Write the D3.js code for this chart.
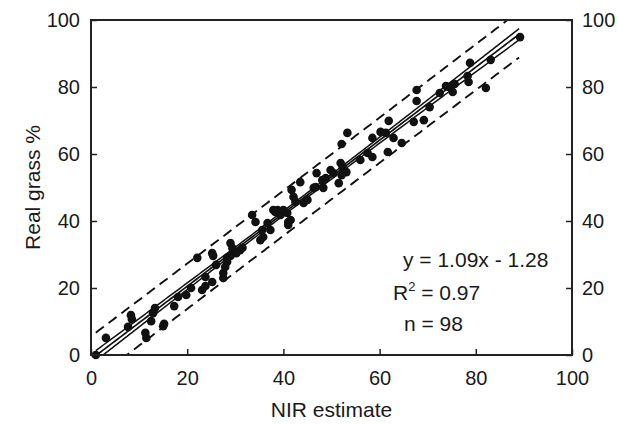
<!DOCTYPE html>
<html>
<head>
<meta charset="utf-8">
<script src="https://cdn.jsdelivr.net/npm/d3@7"></script>
<style>
  body { margin: 0; background: #fff; }
  svg text { font-family: "Liberation Sans", Arial, sans-serif; fill: #1a1a1a; }
</style>
</head>
<body>
<svg id="chart" width="617" height="424"></svg>
<script>
// NIR estimate (x) and real grass % (y)
var nir = [1.0,3.1,7.7,8.3,8.5,11.3,11.5,12.5,13.3,12.9,
  15.2,15.0,17.3,18.1,20.8,22.1,23.1,23.8,23.8,25.2,
  25.2,25.4,26.0,27.5,27.9,27.5,28.3,29.0,28.3,29.0,
  29.4,31.0,30.2,33.5,34.2,35.6,35.2,35.8,36.7,37.3,
  38.3,38.8,39.4,40.0,40.8,41.0,41.5,41.0,41.7,42.5,
  42.1,44.2,45.0,43.5,46.3,46.7,46.9,48.1,48.8,48.3,
  49.8,50.4,51.5,53.1,51.9,52.3,52.1,53.3,52.1,57.5,
  58.5,58.5,60.2,61.3,61.7,61.9,62.9,64.6,67.1,67.7,
  67.7,69.2,70.4,72.5,73.8,74.4,75.2,75.6,78.3,78.5,
  78.8,82.1,83.1,89.2,37.9,19.8,56.0,31.5];
var realGrass = [0,5.1,8.4,11.9,10.7,6.6,5.1,10.1,14.0,12.5,
  9.3,8.6,14.6,17.3,20.0,29.0,19.4,20.6,23.3,21.8,
  30.4,29.6,26.9,24.5,26.3,23.0,29.0,29.6,27.8,33.4,
  31.9,31.3,30.4,41.8,39.7,37.3,34.3,35.2,39.4,37.3,
  42.7,43.3,41.8,43.3,42.4,39.7,40.3,38.8,49.3,45.7,
  47.2,45.4,46.3,51.6,49.9,50.1,54.3,52.2,52.8,49.9,
  55.2,54.3,51.3,54.6,57.3,56.1,63.0,66.3,53.7,60.3,
  59.1,64.8,66.6,66.3,60.6,69.9,64.8,63.3,69.6,79.1,
  75.8,70.1,74.0,78.2,80.3,80.0,78.5,80.9,83.3,81.5,
  87.2,79.7,88.1,94.9,43.3,17.9,58.2,32.0];
var ticks = [0, 20, 40, 60, 80, 100];
var slope = 1.09, intercept = -1.28;
var statLines = ["y = 1.09x - 1.28", "= 0.97", "n = 98"];

function drawChart() {
  var svg = d3.select("#chart");
  var mLeft = 91, mRight = 572, mTop = 20, mBottom = 355;

  var x = d3.scaleLinear().domain([0, 100]).range([mLeft, mRight]);
  var y = d3.scaleLinear().domain([0, 100]).range([mBottom, mTop]);

  // regression bands (95%) around the fitted line
  var data = nir.map(function(d, i) { return {x: d, y: realGrass[i]}; });
  var n = data.length;
  var xbar = d3.mean(nir);
  var sxx = d3.sum(nir, function(d) { return (d - xbar) * (d - xbar); });
  var sse = d3.sum(data, function(d) { var r = d.y - (slope * d.x + intercept); return r * r; });
  var s = Math.sqrt(sse / (n - 2));
  var t = 1.985;
  var xs = d3.range(d3.min(nir), d3.max(nir) + 0.01, 0.5);
  function fit(v) { return slope * v + intercept; }
  function ci(v) { return t * s * Math.sqrt(1 / n + (v - xbar) * (v - xbar) / sxx); }
  function pi(v) { return t * s * Math.sqrt(1 + 1 / n + (v - xbar) * (v - xbar) / sxx); }

  svg.append("clipPath").attr("id", "plotclip")
    .append("rect").attr("x", mLeft).attr("y", mTop)
    .attr("width", mRight - mLeft).attr("height", mBottom - mTop);

  var g = svg.append("g").attr("clip-path", "url(#plotclip)");
  var line = d3.line().x(function(d) { return x(d[0]); }).y(function(d) { return y(d[1]); });

  var bands = [
    {f: function(v) { return fit(v) + pi(v); }, dash: "10,6", w: 1.9},
    {f: function(v) { return fit(v) - pi(v); }, dash: "10,6", w: 1.9},
    {f: function(v) { return fit(v) + ci(v); }, dash: null, w: 1.5},
    {f: function(v) { return fit(v) - ci(v); }, dash: null, w: 1.5},
    {f: fit, dash: null, w: 1.7}
  ];
  bands.forEach(function(b) {
    g.append("path")
      .attr("d", line(xs.map(function(v) { return [v, b.f(v)]; })))
      .attr("fill", "none")
      .attr("stroke", "#111")
      .attr("stroke-width", b.w)
      .attr("stroke-dasharray", b.dash);
  });

  svg.append("g").selectAll("circle")
    .data(data)
    .enter()
    .append("circle")
    .attr("cx", function(d) { return x(d.x); })
    .attr("cy", function(d) { return y(d.y); })
    .attr("r", 4.3)
    .attr("fill", "#111");

  // axes, ticks pointing inwards
  function styleAxis(sel) {
    sel.select(".domain").remove();
    sel.selectAll(".tick line").attr("stroke", "#222").attr("stroke-width", 1.5);
    sel.selectAll(".tick text").style("font-size", "20px").attr("fill", "#1a1a1a");
  }
  svg.append("g").attr("transform", "translate(0," + mBottom + ")")
    .call(d3.axisBottom(x).tickValues(ticks).tickSizeInner(-6).tickPadding(16))
    .call(styleAxis);
  svg.append("g").attr("transform", "translate(" + mLeft + ",0)")
    .call(d3.axisLeft(y).tickValues(ticks).tickSizeInner(-6).tickPadding(11))
    .call(styleAxis);
  svg.append("g").attr("transform", "translate(" + mRight + ",0)")
    .call(d3.axisRight(y).tickValues(ticks).tickSizeInner(-6).tickPadding(10))
    .call(styleAxis);

  svg.append("rect")
    .attr("x", mLeft).attr("y", mTop)
    .attr("width", mRight - mLeft).attr("height", mBottom - mTop)
    .attr("fill", "none").attr("stroke", "#222").attr("stroke-width", 2);

  svg.append("text")
    .attr("x", (mLeft + mRight) / 2).attr("y", 417)
    .attr("text-anchor", "middle").style("font-size", "21px")
    .text("NIR estimate");
  svg.append("text")
    .attr("transform", "translate(40," + (mTop + mBottom) / 2 + ") rotate(-90)")
    .attr("text-anchor", "middle").style("font-size", "21px")
    .text("Real grass %");

  svg.append("text").attr("x", 403).attr("y", 267).style("font-size", "21px").text(statLines[0]);
  var r2 = svg.append("text").attr("x", 393).attr("y", 300).style("font-size", "21px");
  r2.append("tspan").text("R");
  r2.append("tspan").attr("dy", -9).style("font-size", "13px").text("2");
  r2.append("tspan").attr("dy", 9).text(" " + statLines[1]);
  svg.append("text").attr("x", 404).attr("y", 331).style("font-size", "21px").text(statLines[2]);
}
drawChart();
</script>
</body>
</html>
